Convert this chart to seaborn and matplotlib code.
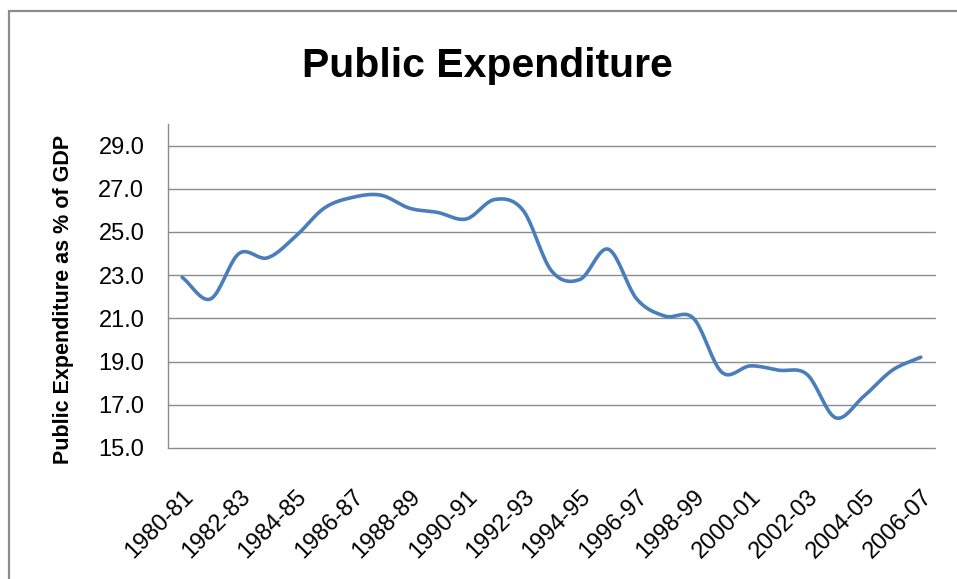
import numpy as np
import pandas as pd
import matplotlib
matplotlib.use("Agg")
import matplotlib.pyplot as plt
from matplotlib.lines import Line2D
import seaborn as sns

# Financial years and public expenditure (% of GDP)
years = ["1980-81", "1981-82", "1982-83", "1983-84", "1984-85", "1985-86",
         "1986-87", "1987-88", "1988-89", "1989-90", "1990-91", "1991-92",
         "1992-93", "1993-94", "1994-95", "1995-96", "1996-97", "1997-98",
         "1998-99", "1999-00", "2000-01", "2001-02", "2002-03", "2003-04",
         "2004-05", "2005-06", "2006-07"]
expenditure = [22.9, 21.9, 24.0, 23.8, 24.8, 26.1, 26.6, 26.7, 26.1, 25.9,
               25.6, 26.5, 26.0, 23.2, 22.8, 24.2, 21.9, 21.1, 21.0, 18.5,
               18.8, 18.6, 18.4, 16.4, 17.4, 18.6, 19.2]
y_ticks = [15, 17, 19, 21, 23, 25, 27, 29]


def smooth(vals, n=20):
    # Catmull-Rom style smoothing, like Excel's "smoothed line"
    v = np.asarray(vals, dtype=float)
    p = np.concatenate([[2 * v[0] - v[1]], v, [2 * v[-1] - v[-2]]])
    xs, ys = [], []
    for i in range(1, len(p) - 2):
        t = np.linspace(0, 1, n, endpoint=False)
        p0, p1, p2, p3 = p[i - 1], p[i], p[i + 1], p[i + 2]
        y = 0.5 * ((2 * p1) + (-p0 + p2) * t
                   + (2 * p0 - 5 * p1 + 4 * p2 - p3) * t ** 2
                   + (-p0 + 3 * p1 - 3 * p2 + p3) * t ** 3)
        xs.extend(i - 1 + t)
        ys.extend(y)
    xs.append(len(v) - 1)
    ys.append(v[-1])
    return np.array(xs), np.array(ys)


sns.set_style("white")
plt.rcParams['font.family'] = ['Liberation Sans', 'DejaVu Sans']
plt.rcParams['text.color'] = 'black'
plt.rcParams['xtick.color'] = 'black'
plt.rcParams['ytick.color'] = 'black'
plt.rcParams['axes.labelcolor'] = 'black'

fig = plt.figure(figsize=(9.57, 5.79), dpi=100)
ax = fig.add_axes([0.1755, 0.2263, 0.8015, 0.5597])

sx, sy = smooth(expenditure)
df = pd.DataFrame({"x": sx, "y": sy})
sns.lineplot(data=df, x="x", y="y", ax=ax, color="#4A7EBB", linewidth=2.6,
             sort=False, solid_capstyle="round")

ax.set_xlim(-0.5, len(years) - 0.5)
ax.set_ylim(15, 30)
ax.set_yticks(y_ticks)
ax.set_yticklabels([f"{t:.1f}" for t in y_ticks])
ax.set_xticks(range(0, len(years), 2))
ax.set_xticklabels(years[::2], rotation=45, ha="right", rotation_mode="anchor")
ax.tick_params(axis="y", length=0, pad=17, labelsize=17)
ax.tick_params(axis="x", length=0, pad=27, labelsize=17)

for t in y_ticks:
    ax.axhline(t, color="#8C8C8C", linewidth=1.0, zorder=0, clip_on=False)

for side in ["top", "right", "bottom"]:
    ax.spines[side].set_visible(False)
ax.spines["left"].set_color("#8C8C8C")
ax.spines["left"].set_linewidth(1.0)

ax.set_xlabel("")
ax.set_ylabel("Public Expenditure as % of GDP", fontsize=15.5, fontweight="bold")
ax.yaxis.set_label_coords(-0.123, 0.457)
fig.suptitle("Public Expenditure", fontsize=29.5, fontweight="bold", x=0.509, y=0.918)

# outer chart border (top and left edges are visible)
fig.lines.append(Line2D([9 / 957, 1.0], [1 - 11 / 579, 1 - 11 / 579],
                        transform=fig.transFigure, color="#8C8C8C", linewidth=1.6))
fig.lines.append(Line2D([9 / 957, 9 / 957], [0.0, 1 - 11 / 579],
                        transform=fig.transFigure, color="#8C8C8C", linewidth=1.6))

fig.savefig("out.png", dpi=100)
